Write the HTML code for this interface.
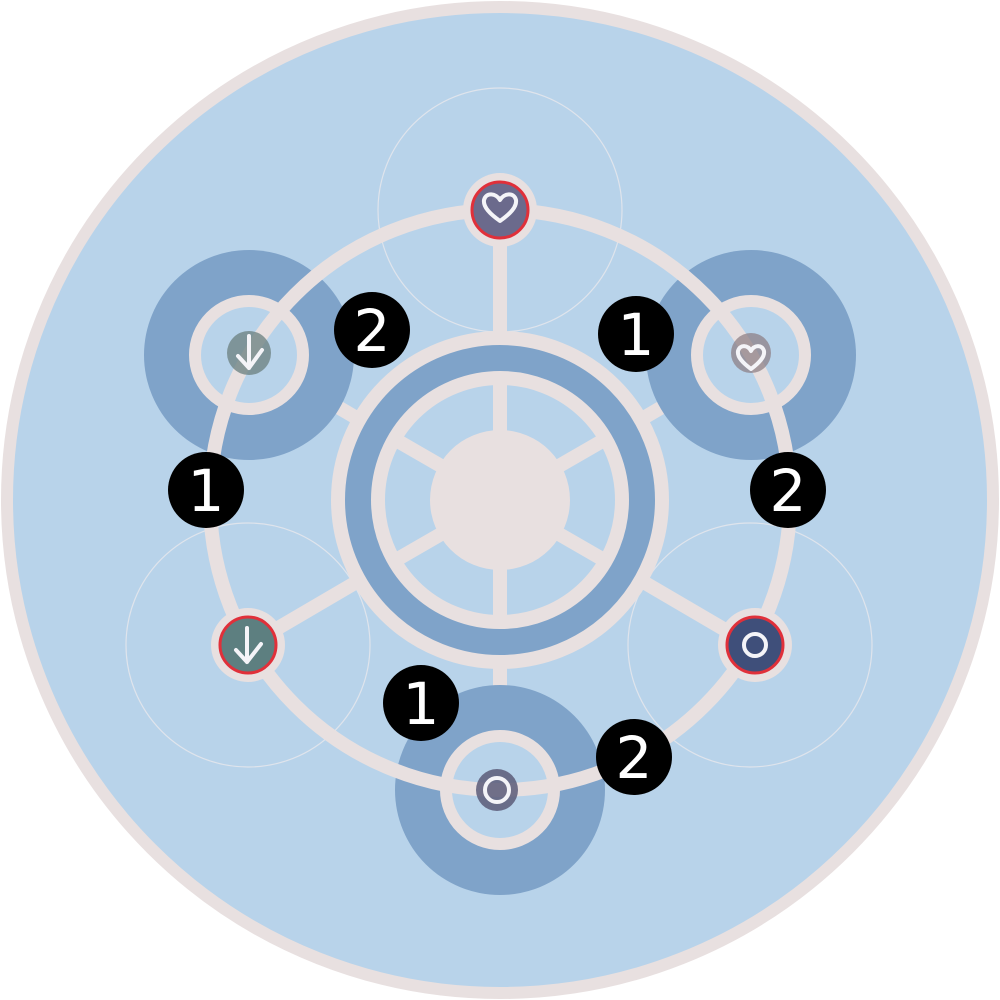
<!DOCTYPE html>
<html><head><meta charset="utf-8"><style>html,body{margin:0;padding:0;background:#fff}svg{display:block}</style></head>
<body>
<svg width="1000" height="1000" viewBox="0 0 1000 1000" xmlns="http://www.w3.org/2000/svg">
<circle cx="500" cy="500" r="493" fill="#b8d3ea" stroke="#e8e0e0" stroke-width="12"/>
<g fill="none" stroke="#dfe4ec" stroke-width="1.2">
<circle cx="500" cy="210" r="122"/>
<circle cx="248" cy="645" r="122"/>
<circle cx="750" cy="645" r="122"/>
</g>
<g stroke="#e8e0e0" stroke-width="14">
<line x1="500" y1="210" x2="500" y2="340"/>
<line x1="500" y1="660" x2="500" y2="790"/>
<line x1="249" y1="355" x2="360" y2="420"/>
<line x1="751" y1="355" x2="640" y2="420"/>
<line x1="249" y1="645" x2="360" y2="580"/>
<line x1="751" y1="645" x2="640" y2="580"/>
</g>
<g fill="#7fa3c9">
<circle cx="249" cy="355" r="105"/>
<circle cx="751" cy="355" r="105"/>
<circle cx="500" cy="790" r="105"/>
</g>
<g fill="#b8d3ea" stroke="#e8e0e0" stroke-width="12">
<circle cx="249" cy="355" r="54"/>
<circle cx="751" cy="355" r="54"/>
<circle cx="500" cy="790" r="54"/>
</g>
<circle cx="500" cy="500" r="290" fill="none" stroke="#e8e0e0" stroke-width="14"/>
<circle cx="500" cy="500" r="162" fill="#7fa3c9" stroke="#e8e0e0" stroke-width="14"/>
<circle cx="500" cy="500" r="122" fill="#b8d3ea" stroke="#e8e0e0" stroke-width="14"/>
<g stroke="#e8e0e0" stroke-width="14">
<line x1="500" y1="380" x2="500" y2="620"/>
<line x1="396" y1="440" x2="604" y2="560"/>
<line x1="396" y1="560" x2="604" y2="440"/>
</g>
<circle cx="500" cy="500" r="70" fill="#e8e0e0"/>
<g>
<circle cx="500" cy="210" r="37" fill="#e8e0e0"/>
<circle cx="500" cy="210" r="28" fill="#6b6a8c" stroke="#e0303a" stroke-width="3"/>
<circle cx="248" cy="645" r="37" fill="#e8e0e0"/>
<circle cx="248" cy="645" r="28" fill="#5d7f80" stroke="#e0303a" stroke-width="3"/>
<circle cx="755" cy="645" r="37" fill="#e8e0e0"/>
<circle cx="755" cy="645" r="28" fill="#3f4f7a" stroke="#e0303a" stroke-width="3"/>
</g>
<circle cx="249" cy="353" r="22" fill="#6f8585" opacity="0.8"/>
<circle cx="751" cy="353" r="20" fill="#8a7a80" opacity="0.7"/>
<circle cx="497" cy="790" r="21" fill="#5b5a78" opacity="0.85"/>
<g fill="none" stroke="#f4f4f8" stroke-width="4" stroke-linecap="round" stroke-linejoin="round">
<path d="M500 221 C490 214 483 207 484 200 C486 192 496 193 500 200 C504 193 514 192 516 200 C517 207 510 214 500 221Z"/>
<path d="M751 369 C743 363 737 357 738 351 C740 344 748 345 751 351 C754 345 762 344 764 351 C765 357 759 363 751 369Z"/>
<path d="M249 336 L249 368 M238 356 L249 368 L262 350"/>
<path d="M247 628 L247 662 M236 650 L247 662 L261 644"/>
<circle cx="755" cy="645" r="11"/>
<circle cx="497" cy="790" r="12"/>
</g>
<g font-family="DejaVu Sans, sans-serif" font-size="58" fill="#fff" text-anchor="middle">
<circle cx="372" cy="330" r="38" fill="#000"/><text x="372" y="351">2</text>
<circle cx="636" cy="334" r="38" fill="#000"/><text x="636" y="355">1</text>
<circle cx="206" cy="490" r="38" fill="#000"/><text x="206" y="511">1</text>
<circle cx="788" cy="490" r="38" fill="#000"/><text x="788" y="511">2</text>
<circle cx="421" cy="703" r="38" fill="#000"/><text x="421" y="724">1</text>
<circle cx="634" cy="757" r="38" fill="#000"/><text x="634" y="778">2</text>
</g>
</svg>
</body></html>
